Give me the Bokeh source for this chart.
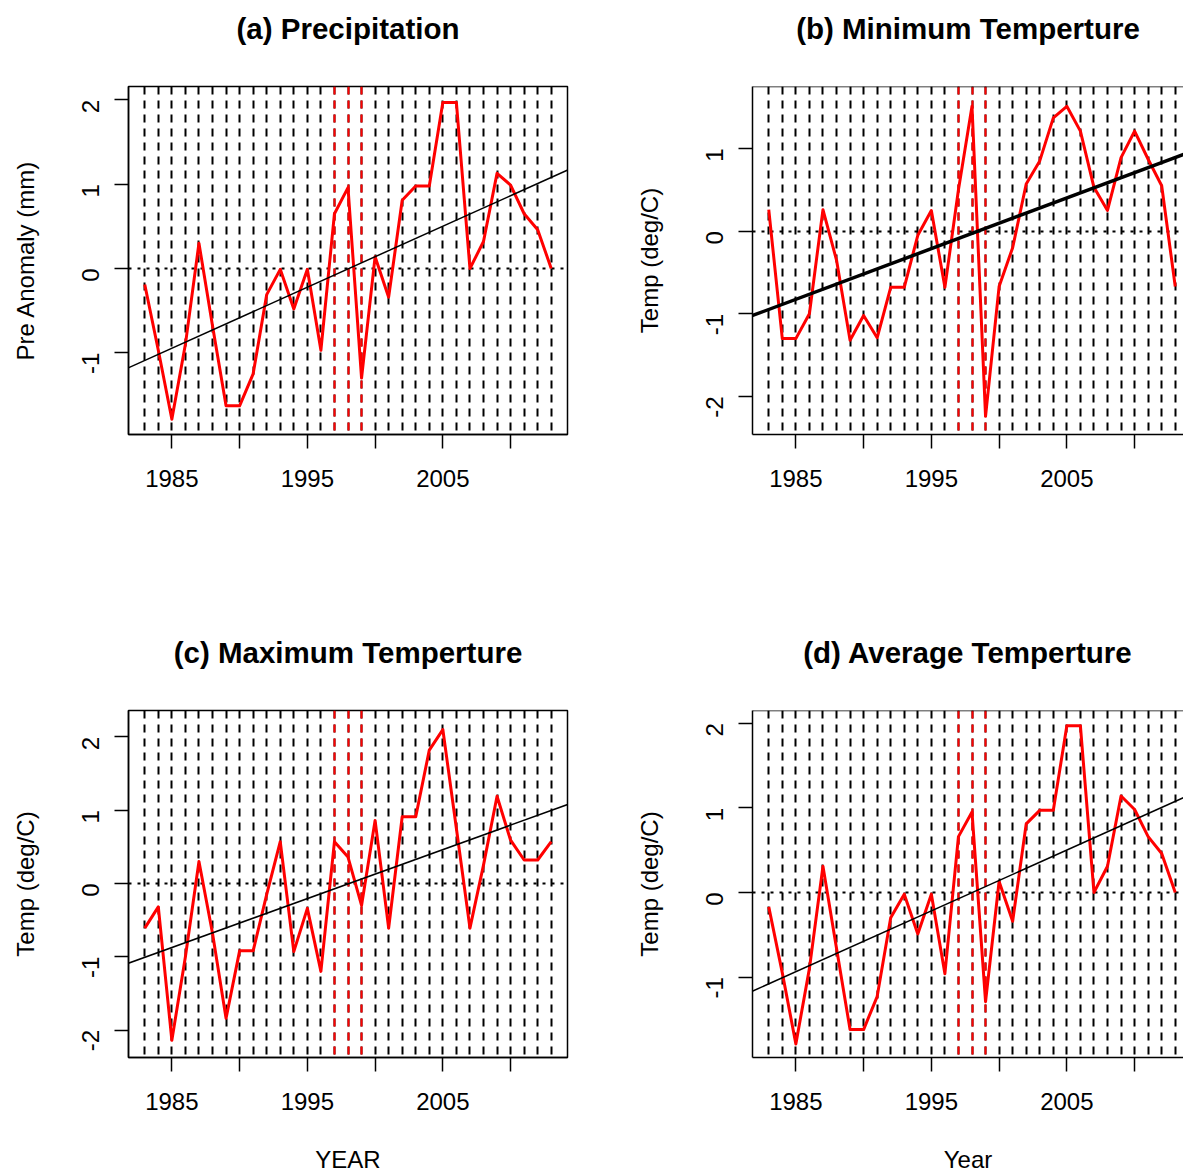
import math
import numpy as np
from bokeh.plotting import figure
from bokeh.layouts import gridplot
from bokeh.models import FixedTicker, Slope, Span
from bokeh.embed import file_html
from bokeh.resources import INLINE

# ---------------- data ----------------
years = list(range(1983, 2014))
precip = [-0.19, -0.97, -1.79, -0.90, 0.30, -0.68, -1.63, -1.63, -1.25, -0.31,
          -0.01, -0.48, -0.01, -0.97, 0.65, 0.96, -1.30, 0.14, -0.34, 0.81,
          0.98, 0.98, 1.97, 1.97, 0.00, 0.32, 1.13, 0.99, 0.65, 0.46, 0.00]
tmin = [0.26, -1.30, -1.30, -1.00, 0.26, -0.35, -1.32, -1.02, -1.29, -0.68,
        -0.68, -0.05, 0.25, -0.68, 0.50, 1.51, -2.24, -0.67, -0.20, 0.57,
        0.85, 1.37, 1.51, 1.21, 0.53, 0.25, 0.89, 1.21, 0.87, 0.55, -0.67]
tmax = [-0.61, -0.32, -2.14, -1.00, 0.30, -0.68, -1.84, -0.92, -0.92, -0.15,
        0.57, -0.93, -0.34, -1.20, 0.57, 0.36, -0.30, 0.86, -0.61, 0.91,
        0.91, 1.82, 2.10, 0.75, -0.61, 0.25, 1.19, 0.59, 0.32, 0.32, 0.57]
tavg = [-0.17, -0.95, -1.79, -0.90, 0.31, -0.66, -1.62, -1.62, -1.23, -0.30,
        -0.02, -0.49, -0.02, -0.96, 0.66, 0.95, -1.29, 0.13, -0.34, 0.81,
        0.97, 0.97, 1.97, 1.97, 0.00, 0.31, 1.14, 0.98, 0.66, 0.46, 0.00]
event_years = [1997, 1998, 1999]
x_ticks = [1985, 1990, 1995, 2000, 2005, 2010]
x_tick_labels = {1985: "1985", 1990: "", 1995: "1995", 2000: "", 2005: "2005", 2010: ""}
titles = ["(a) Precipitation", "(b) Minimum Temperture",
          "(c) Maximum Temperture", "(d) Average Temperture"]
ylabels = ["Pre Anomaly (mm)", "Temp (deg/C)", "Temp (deg/C)", "Temp (deg/C)"]
xlabels = [None, None, "YEAR", "Year"]
y_ticks = [[-1, 0, 1, 2], [-2, -1, 0, 1], [-2, -1, 0, 1, 2], [-1, 0, 1, 2]]
y_limits = [(-1.97, 2.16), (-2.46, 1.75), (-2.375, 2.36), (-1.95, 2.15)]

FONT = "Liberation Sans"
X0, X1 = 1981.8, 2014.2
FRAME_W = 439.0


def make_panel(vals, title, ylabel, xlabel, yticks, ylim, width, height,
               left_border, top_border, bottom_border, right_border,
               trend_w, full_box):
    frame_w = width - left_border - right_border
    x_end = X0 + frame_w * (X1 - X0) / FRAME_W
    p = figure(width=width, height=height, x_range=(X0, x_end), y_range=ylim,
               output_backend="svg", toolbar_location=None,
               min_border_left=left_border, min_border_right=right_border,
               min_border_top=top_border, min_border_bottom=bottom_border,
               title=title + "\n ",
               background_fill_color="white", border_fill_color="white")
    p.title.text_font = FONT
    p.title.text_font_style = "bold"
    p.title.text_font_size = "29.5px"
    p.title.text_color = "black"
    p.title.align = "center"
    p.title.vertical_align = "bottom"
    p.title.standoff = 17
    p.xgrid.visible = False
    p.ygrid.visible = False
    if full_box:
        p.outline_line_color = "black"
        p.outline_line_width = 1.5
        p.outline_line_alpha = 1
    else:
        p.outline_line_color = None
        p.add_layout(Span(location=ylim[1], dimension="width",
                          line_color="black", line_width=1.5))

    for ax in (p.xaxis[0], p.yaxis[0]):
        ax.axis_line_color = "black"
        ax.axis_line_width = 1.5
        ax.major_tick_line_color = "black"
        ax.major_tick_line_width = 1.5
        ax.major_tick_out = 14
        ax.major_tick_in = 0
        ax.minor_tick_out = 0
        ax.minor_tick_in = 0
        ax.major_label_text_font = FONT
        ax.major_label_text_font_size = "24px"
        ax.major_label_text_color = "black"
        ax.axis_label_text_font = FONT
        ax.axis_label_text_font_size = "24px"
        ax.axis_label_text_font_style = "normal"
        ax.axis_label_text_color = "black"

    p.xaxis.ticker = FixedTicker(ticks=x_ticks)
    p.xaxis.major_label_overrides = x_tick_labels
    p.xaxis.major_label_standoff = 21
    if xlabel:
        p.xaxis.axis_label = xlabel
        p.xaxis.axis_label_standoff = 33

    p.yaxis.ticker = FixedTicker(ticks=yticks)
    p.yaxis.major_label_overrides = {t: str(t) for t in yticks}
    p.yaxis.major_label_orientation = math.pi / 2
    p.yaxis.major_label_standoff = 24
    p.yaxis.axis_label = ylabel
    p.yaxis.axis_label_standoff = 32

    # year grid (dashed), event years in red
    p.vspan(x=years, line_color="black", line_dash="8 6", line_width=2)
    p.vspan(x=event_years, line_color="red", line_dash="8 6", line_width=2)
    # zero reference
    p.hspan(y=[0], line_color="black", line_dash="3 6", line_width=2)
    # series
    p.line(years, vals, line_color="red", line_width=3, line_join="round")
    # linear trend
    m, b = np.polyfit(np.array(years, dtype=float), np.array(vals, dtype=float), 1)
    p.add_layout(Slope(gradient=float(m), y_intercept=float(b),
                       line_color="black", line_width=trend_w))
    return p


pa = make_panel(precip, titles[0], ylabels[0], xlabels[0], y_ticks[0], y_limits[0],
                632, 624, 128, 86, 190, 65, 1.5, True)
pb = make_panel(tmin, titles[1], ylabels[1], xlabels[1], y_ticks[1], y_limits[1],
                551, 624, 120, 86, 190, 0, 3.5, False)
pc = make_panel(tmax, titles[2], ylabels[2], xlabels[2], y_ticks[2], y_limits[2],
                632, 551, 128, 86, 117, 65, 1.5, True)
pd = make_panel(tavg, titles[3], ylabels[3], xlabels[3], y_ticks[3], y_limits[3],
                551, 551, 120, 86, 117, 0, 1.5, False)

grid = gridplot([[pa, pb], [pc, pd]], toolbar_location=None)

open("out.html", "w").write(file_html(grid, INLINE))
